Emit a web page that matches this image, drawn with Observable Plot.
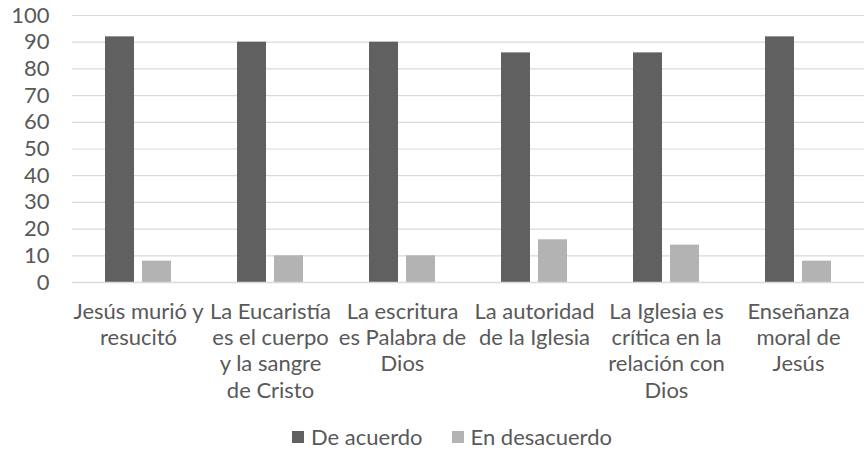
<!DOCTYPE html>
<html>
<head>
<meta charset="utf-8">
<script src="https://cdn.jsdelivr.net/npm/d3@7"></script>
<script src="https://cdn.jsdelivr.net/npm/@observablehq/plot@0.6"></script>
<style>
  html, body { margin: 0; padding: 0; background: #fff; }
  body { width: 867px; height: 465px; position: relative; overflow: hidden; font-family: Lato, "Noto Sans", sans-serif; }
  #legend { position: absolute; left: 292px; top: 423px; display: flex; align-items: center; gap: 29px; color: #595959; font-size: 22px; }
  .item { display: flex; align-items: center; gap: 7px; }
  .sw { width: 12px; height: 12px; display: inline-block; }
</style>
</head>
<body>
<div id="chart"></div>
<div id="legend"></div>
<script>
const categories = [
  "Jesús murió y resucitó",
  "La Eucaristía es el cuerpo y la sangre de Cristo",
  "La escritura es Palabra de Dios",
  "La autoridad de la Iglesia",
  "La Iglesia es crítica en la relación con Dios",
  "Enseñanza moral de Jesús"
];
const categoryLabels = [
  "Jesús murió y\nresucitó",
  "La Eucaristía\nes el cuerpo\ny la sangre\nde Cristo",
  "La escritura\nes Palabra de\nDios",
  "La autoridad\nde la Iglesia",
  "La Iglesia es\ncrítica en la\nrelación con\nDios",
  "Enseñanza\nmoral de\nJesús"
];
const series = ["De acuerdo", "En desacuerdo"];
const deAcuerdo = [92, 90, 90, 86, 86, 92];
const enDesacuerdo = [8, 10, 10, 16, 14, 8];
const seriesColors = ["#606060", "#b3b3b3"];
const yTicks = [0, 10, 20, 30, 40, 50, 60, 70, 80, 90, 100];

const rows = [];
categories.forEach((c, i) => {
  rows.push({category: c, series: series[0], value: deAcuerdo[i]});
  rows.push({category: c, series: series[1], value: enDesacuerdo[i]});
});

const chart = Plot.plot({
  width: 867,
  height: 420,
  marginLeft: 71,
  marginRight: 2,
  marginTop: 15,
  marginBottom: 138,
  style: {fontFamily: "Lato, 'Noto Sans', sans-serif", fontSize: "22px", color: "#595959", background: "white"},
  fx: {domain: categories, padding: 0, label: null},
  x: {domain: series, axis: null, paddingInner: 0.21, paddingOuter: 0.842},
  y: {domain: [0, 100], label: null},
  color: {domain: series, range: seriesColors},
  marks: [
    Plot.gridY(yTicks, {stroke: "#d9d9d9", strokeOpacity: 1, strokeWidth: 1.2}),
    Plot.axisY(yTicks, {tickSize: 0, tickPadding: 23, label: null, fontSize: 22, fill: "#595959"}),
    Plot.axisFx({anchor: "bottom", tickSize: 0, tickPadding: 18, label: null, fontSize: 22, fill: "#595959",
      lineHeight: 1.19, tickFormat: c => categoryLabels[categories.indexOf(c)]}),
    Plot.barY(rows, {fx: "category", x: "series", y: "value", fill: "series"}),
    Plot.ruleY([0], {stroke: "#d9d9d9", strokeWidth: 1.5})
  ]
});
document.getElementById("chart").appendChild(chart);

const legend = document.getElementById("legend");
series.forEach((s, i) => {
  const item = document.createElement("div");
  item.className = "item";
  const sw = document.createElement("span");
  sw.className = "sw";
  sw.style.background = seriesColors[i];
  const t = document.createElement("span");
  t.textContent = s;
  item.appendChild(sw);
  item.appendChild(t);
  legend.appendChild(item);
});
</script>
</body>
</html>
